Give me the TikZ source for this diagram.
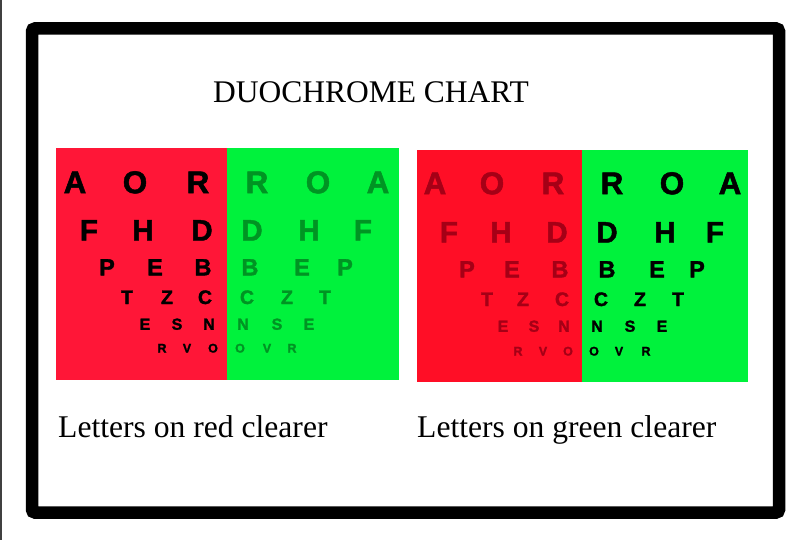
\documentclass[tikz,border=0pt]{standalone}
\usepackage{fontspec}
\setmainfont{Liberation Serif}
\newfontfamily\chartfont{Liberation Sans}[BoldFeatures={FakeBold=1.6}]
\definecolor{chartred}{RGB}{255,22,55}
\definecolor{chartredb}{RGB}{255,14,38}
\definecolor{chartgreen}{RGB}{0,242,60}
\definecolor{dimgreen}{RGB}{0,148,35}
\definecolor{dimred}{RGB}{165,0,22}
\tikzset{
  lt/.style={inner sep=0pt, text depth=0pt, font=\chartfont\bfseries\fontsize{#1}{#1}\selectfont},
  rowa/.style={lt=31.5, text height=22.4pt},
  rowb/.style={lt=29.5, text height=21pt},
  rowc/.style={lt=23.5, text height=16.8pt},
  rowd/.style={lt=19.5, text height=14pt},
  rowe/.style={lt=16, text height=11.5pt},
  rowf/.style={lt=12.5, text height=9pt},
  titletext/.style={inner sep=0pt, font=\fontsize{31.5}{36}\selectfont},
  captiontext/.style={inner sep=0pt, anchor=base west, font=\fontsize{31.6}{38}\selectfont},
}
\begin{document}
\begin{tikzpicture}[x=1pt,y=-1pt]
\useasboundingbox (0,0) rectangle (794,540);
\fill[white] (0,0) rectangle (794,540);
\draw[black!75, line width=1.5] (0.75,0) -- (0.75,540);
\draw[line width=12.5, rounded corners=3] (32,28.5) rectangle (779,512.5);
% charts
\fill[chartred] (56,148) rectangle (227,380);
\fill[chartgreen] (227,148) rectangle (399,380);
\fill[chartredb] (417,150) rectangle (582,382);
\fill[chartgreen] (582,150) rectangle (748,382);
\node[titletext] (title) at (371,92) {DUOCHROME CHART};
% left chart
\foreach \c/\x/\col [count=\i] in {A/75/black,O/135/black,R/198/black,R/257/dimgreen,O/318/dimgreen,A/378/dimgreen}
  \node[rowa, text=\col] (la\i) at (\x,182) {\c};
\foreach \c/\x/\col [count=\i] in {F/89/black,H/143/black,D/202/black,D/252/dimgreen,H/309/dimgreen,F/363/dimgreen}
  \node[rowb, text=\col] (lb\i) at (\x,230) {\c};
\foreach \c/\x/\col [count=\i] in {P/107/black,E/155/black,B/203/black,B/250/dimgreen,E/302/dimgreen,P/345/dimgreen}
  \node[rowc, text=\col] (lc\i) at (\x,267) {\c};
\foreach \c/\x/\col [count=\i] in {T/127/black,Z/167/black,C/205/black,C/247/dimgreen,Z/287/dimgreen,T/325/dimgreen}
  \node[rowd, text=\col] (ld\i) at (\x,297) {\c};
\foreach \c/\x/\col [count=\i] in {E/145/black,S/177/black,N/209/black,N/243/dimgreen,S/277/dimgreen,E/309/dimgreen}
  \node[rowe, text=\col] (le\i) at (\x,324) {\c};
\foreach \c/\x/\col [count=\i] in {R/162/black,V/187/black,O/213/black,O/240/dimgreen,V/267/dimgreen,R/292/dimgreen}
  \node[rowf, text=\col] (lf\i) at (\x,348) {\c};
% right chart
\foreach \c/\x/\col [count=\i] in {A/435/dimred,O/492/dimred,R/553/dimred,R/612/black,O/672/black,A/730/black}
  \node[rowa, text=\col] (ra\i) at (\x,183) {\c};
\foreach \c/\x/\col [count=\i] in {F/449/dimred,H/501/dimred,D/557/dimred,D/607/black,H/665/black,F/715/black}
  \node[rowb, text=\col] (rb\i) at (\x,232) {\c};
\foreach \c/\x/\col [count=\i] in {P/467/dimred,E/512/dimred,B/560/dimred,B/607/black,E/657/black,P/697/black}
  \node[rowc, text=\col] (rc\i) at (\x,269) {\c};
\foreach \c/\x/\col [count=\i] in {T/487/dimred,Z/523/dimred,C/562/dimred,C/601/black,Z/640/black,T/678/black}
  \node[rowd, text=\col] (rd\i) at (\x,299) {\c};
\foreach \c/\x/\col [count=\i] in {E/503/dimred,S/534/dimred,N/564/dimred,N/597/black,S/630/black,E/662/black}
  \node[rowe, text=\col] (re\i) at (\x,326) {\c};
\foreach \c/\x/\col [count=\i] in {R/518/dimred,V/543/dimred,O/568/dimred,O/594/black,V/619/black,R/646/black}
  \node[rowf, text=\col] (rf\i) at (\x,351) {\c};
% captions
\node[captiontext] (capl) at (58,437) {Letters on red clearer};
\node[captiontext] (capr) at (417,437) {Letters on green clearer};
\end{tikzpicture}
\end{document}
